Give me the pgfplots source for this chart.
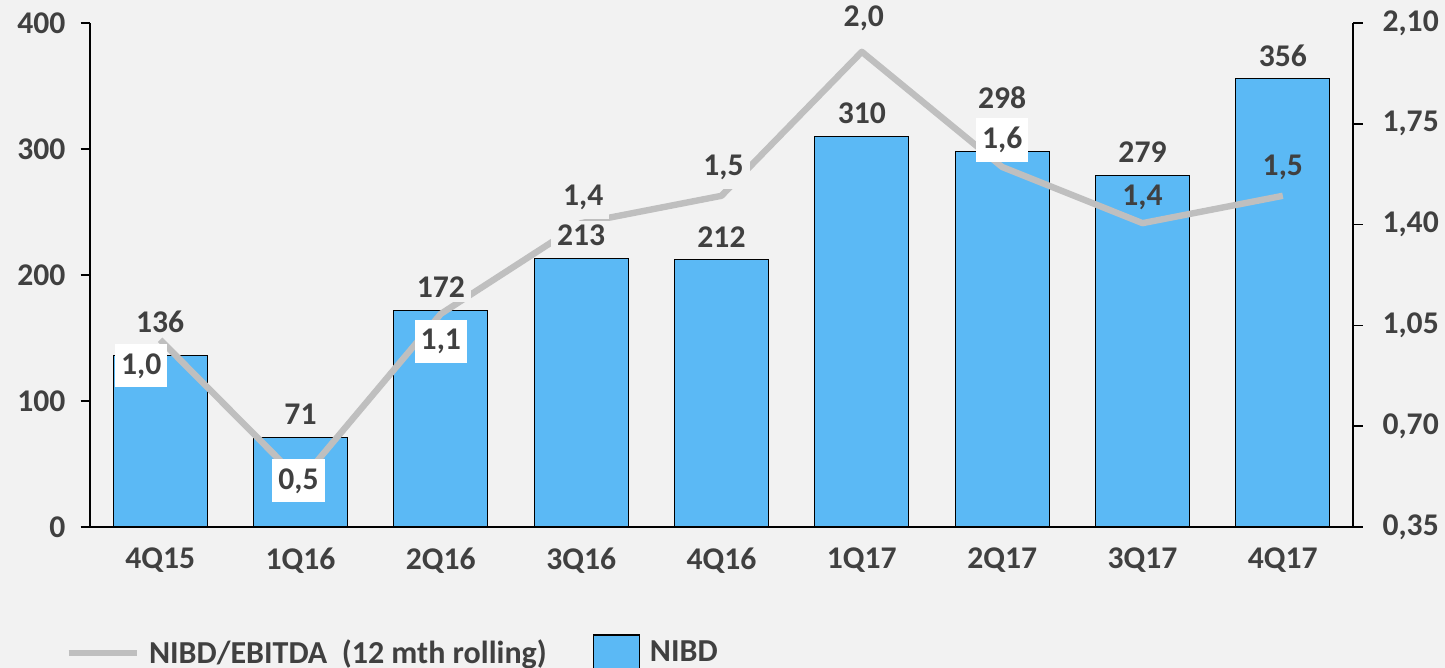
\documentclass[border=0pt]{standalone}
\usepackage{pgfplots}
\pgfplotsset{compat=1.18}
\usepackage{pgfplotstable}
\usepackage{fontspec}
\setmainfont{Carlito}
\definecolor{bg}{RGB}{242,242,242}
\definecolor{barblue}{RGB}{91,185,245}
\definecolor{linegray}{RGB}{191,191,191}
\definecolor{txt}{RGB}{64,64,64}
\newcommand\tickfont{\fontsize{15.8}{18}\selectfont\bfseries}
\newcommand\datafont{\fontsize{15.8}{18}\selectfont\bfseries}
\newcommand\legfont{\fontsize{16}{18}\selectfont\bfseries}

\pgfplotstableread{
x v lbl off
0 136 136 17
1 71 71 11.5
2 172 172 11.5
3 213 213 11.5
4 212 212 11.5
5 310 310 11.5
6 298 298 26.75
7 279 279 11.5
8 356 356 11.5
}\bardata

\pgfplotstableread{
x v lbl dx dy fc fo
0 1.00 1,0 -9.5 -13 100 1
1 0.51 0,5 -1 0 100 1
2 1.09 1,1 0 -14 100 1
3 1.405 1,4 1 13 0 1
4 1.50 1,5 1 14 0 1
5 2.00 2,0 1 17 0 1
6 1.60 1,6 0 13.5 100 1
7 1.405 1,4 0 13 0 0
8 1.50 1,5 0 14 0 0
}\linedata

\pgfplotsset{
  base/.style={
    width=631.5pt, height=252pt, scale only axis,
    at={(0,0)}, anchor=south west,
    xmin=-0.5, xmax=8.5, clip=false,
    tick align=outside, major tick length=4.75pt,
    tick style={black, line width=0.8pt},
    axis line style={black, line width=0.8pt},
    tick label style={font=\tickfont, text=txt},
    /pgf/number format/assume math mode=true,
  }
}

\begin{document}
\begin{tikzpicture}
\fill[bg] (-45pt,-70.5pt) rectangle (677.5pt,263.5pt);

% bars
\begin{axis}[base,
  ymin=0, ymax=400, ytick={0,100,200,300,400},
  axis x line*=bottom, axis y line*=left,
  xtick={0,...,8},
  xticklabels={4Q15,1Q16,2Q16,3Q16,4Q16,1Q17,2Q17,3Q17,4Q17},
  xtick style={draw=none},
  xticklabel style={yshift=-2pt},
  yticklabel style={xshift=-4pt},
]
\addplot[ybar, bar width=47pt, fill=barblue, draw=black, line width=0.6pt]
  table[x=x,y=v]{\bardata};
\end{axis}

% line
\begin{axis}[base,
  ymin=0.35, ymax=2.1, ytick={0.35,0.70,1.05,1.40,1.75,2.10},
  axis y line*=right, axis x line=none,
  yticklabel style={xshift=6.5pt, /pgf/number format/.cd, fixed, fixed zerofill, precision=2, use comma},
  legend style={at={(-0.0194,-0.260)}, anchor=west, draw=none, fill=none,
    font=\legfont, text=txt, inner sep=0pt,
    nodes={inner xsep=0pt},
    /tikz/every odd column/.append style={column sep=5pt},
    /tikz/every even column/.append style={column sep=23pt}},
  legend columns=2,
]
\addplot[linegray, line width=3.2pt, line join=round, mark=none,
  legend image code/.code={\draw[linegray, line width=2.6pt] (0pt,0pt) -- (34pt,0pt);}]
  table[x=x,y=v]{\linedata};
\addlegendentry{NIBD/EBITDA~~(12 mth rolling)}
\addlegendimage{legend image code/.code={\draw[fill=barblue,draw=black,line width=0.6pt] (0pt,-14pt) rectangle (23pt,9pt);}}
\addlegendentry{NIBD}
\addplot[draw=none, mark=none, forget plot,
  point meta=explicit symbolic, nodes near coords,
  visualization depends on={\thisrow{dx}\as\dx},
  visualization depends on={\thisrow{dy}\as\dy},
  visualization depends on={\thisrow{fc}\as\fc},
  visualization depends on={\thisrow{fo}\as\fo},
  nodes near coords style={anchor=center, xshift=\dx pt, yshift=\dy pt,
    fill=white!\fc!bg, fill opacity=\fo, text opacity=1,
    font=\datafont, text=txt, inner xsep=3pt, inner ysep=4.5pt}]
  table[x=x,y=v,meta=lbl]{\linedata};
\end{axis}

% bar labels
\begin{axis}[base, hide axis, ymin=0, ymax=400]
\addplot[draw=none, mark=none,
  point meta=explicit symbolic, nodes near coords,
  visualization depends on={\thisrow{off}\as\off},
  nodes near coords style={anchor=center, yshift=\off pt, fill=bg,
    font=\datafont, text=txt, inner xsep=3pt, inner ysep=2pt}]
  table[x=x,y=v,meta=lbl]{\bardata};
\end{axis}

\pgfresetboundingbox
\useasboundingbox (-45pt,-70.5pt) rectangle (677.5pt,263.5pt);
\end{tikzpicture}
\end{document}
